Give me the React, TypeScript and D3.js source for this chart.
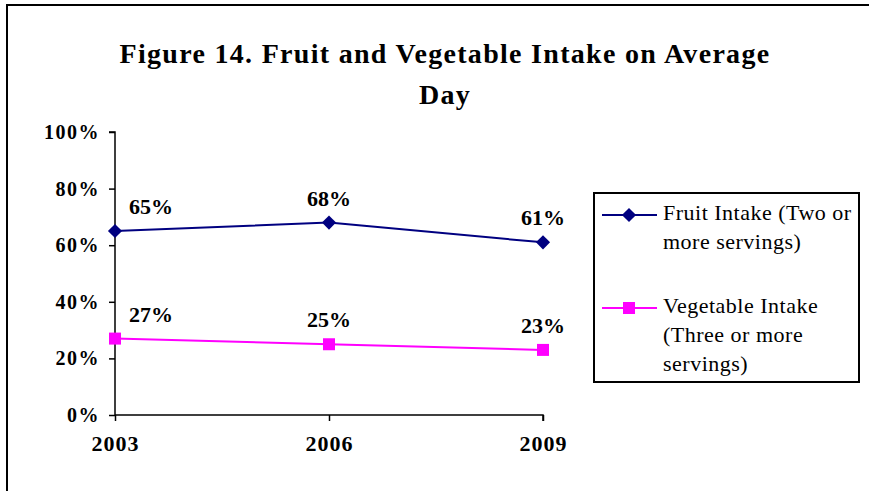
import * as d3 from "d3";
import { useEffect, useRef } from "react";

// данные графика
const years = ["2003", "2006", "2009"];
const fruitValues = [0.65, 0.68, 0.61];
const vegValues = [0.27, 0.25, 0.23];
const yTicks = [0, 0.2, 0.4, 0.6, 0.8, 1.0];
const fruitLegend = ["Fruit Intake (Two or", "more servings)"];
const vegLegend = ["Vegetable Intake", "(Three or more", "servings)"];
const titleLines = ["Figure 14. Fruit and Vegetable Intake on Average", "Day"];

const W = 869;
const H = 491;
const FONT = "'Liberation Serif', 'Times New Roman', serif";

const App = () => {
  const ref = useRef<SVGSVGElement>(null);

  useEffect(() => {
    document.body.style.margin = "0";

    const svg = d3.select(ref.current);
    svg.selectAll("*").remove();

    // рамка (видны только верх и левый край)
    svg.append("line")
      .attr("x1", 7).attr("x2", 7).attr("y1", 4).attr("y2", H)
      .attr("stroke", "black").attr("stroke-width", 2);
    svg.append("line")
      .attr("x1", 6).attr("x2", W).attr("y1", 5).attr("y2", 5)
      .attr("stroke", "black").attr("stroke-width", 2);

    // заголовок
    svg.append("g").selectAll("text")
      .data(titleLines)
      .enter()
      .append("text")
      .attr("x", 445)
      .attr("y", (d, i) => 63 + i * 41)
      .attr("text-anchor", "middle")
      .style("font-family", FONT)
      .style("font-weight", "bold")
      .style("font-size", "28px")
      .style("letter-spacing", "1.3px")
      .text(d => d);

    const margin = { left: 115, top: 132, right: 543, bottom: 415 };

    const scaleX = d3.scalePoint()
      .domain(years)
      .range([margin.left, margin.right]);

    const scaleY = d3.scaleLinear()
      .domain([0, 1])
      .range([margin.bottom, margin.top]);

    // ось Y
    const yAxis = d3.axisLeft(scaleY)
      .tickValues(yTicks)
      .tickFormat(d3.format(".0%"))
      .tickSize(6)
      .tickPadding(9);
    const gy = svg.append("g")
      .attr("transform", `translate(${margin.left}, 0)`)
      .call(yAxis);
    gy.select(".domain").attr("stroke-width", 1.5).attr("d", `M-6,${margin.top}H0V${margin.bottom}`);
    gy.selectAll("line").attr("stroke-width", 1.5);
    gy.selectAll("text")
      .style("font-family", FONT)
      .style("font-weight", "bold")
      .style("font-size", "20px")
      .style("letter-spacing", "1.5px")
      .attr("fill", "black");

    // ось X
    const xAxis = d3.axisBottom(scaleX)
      .tickSize(6)
      .tickPadding(14);
    const gx = svg.append("g")
      .attr("transform", `translate(0, ${margin.bottom})`)
      .call(xAxis);
    gx.select(".domain").attr("stroke-width", 1.5).attr("d", `M${margin.left},0H${margin.right}V6`);
    gx.selectAll("line").attr("stroke-width", 1.5);
    gx.selectAll("text")
      .style("font-family", FONT)
      .style("font-weight", "bold")
      .style("font-size", "22px")
      .style("letter-spacing", "1px")
      .attr("fill", "black");

    const marker = (size: number) => d3.symbol().type(d3.symbolSquare).size(size)();

    const series = [
      { values: fruitValues, color: "#000080", path: marker(100), rot: 45 },
      { values: vegValues, color: "#FF00FF", path: marker(144), rot: 0 },
    ];

    const line = d3.line<number>()
      .x((d, i) => scaleX(years[i]) as number)
      .y(d => scaleY(d));

    series.forEach(s => {
      svg.append("path")
        .attr("d", line(s.values))
        .attr("fill", "none")
        .attr("stroke", s.color)
        .attr("stroke-width", 2);

      svg.append("g").selectAll("path")
        .data(s.values)
        .enter()
        .append("path")
        .attr("d", s.path)
        .attr("transform", (d, i) => `translate(${scaleX(years[i])}, ${scaleY(d)}) rotate(${s.rot})`)
        .attr("fill", s.color);

      // подписи значений
      svg.append("g").selectAll("text")
        .data(s.values)
        .enter()
        .append("text")
        .attr("x", (d, i) => (scaleX(years[i]) as number) + (i === 0 ? 36 : 0))
        .attr("y", d => scaleY(d) - 22)
        .attr("text-anchor", "middle")
        .attr("dominant-baseline", "middle")
        .style("font-family", FONT)
        .style("font-weight", "bold")
        .style("font-size", "22px")
        .text(d => d3.format(".0%")(d));
    });

    // легенда
    const legend = svg.append("g");
    legend.append("rect")
      .attr("x", 594).attr("y", 193)
      .attr("width", 265).attr("height", 189)
      .attr("fill", "white").attr("stroke", "black").attr("stroke-width", 2);

    const items = [
      { lines: fruitLegend, y: 215, ...series[0] },
      { lines: vegLegend, y: 308, ...series[1] },
    ];
    items.forEach(it => {
      legend.append("line")
        .attr("x1", 602).attr("x2", 657)
        .attr("y1", it.y).attr("y2", it.y)
        .attr("stroke", it.color).attr("stroke-width", 2);
      legend.append("path")
        .attr("d", it.path)
        .attr("transform", `translate(629, ${it.y}) rotate(${it.rot})`)
        .attr("fill", it.color);
      legend.append("g").selectAll("text")
        .data(it.lines)
        .enter()
        .append("text")
        .attr("x", 663)
        .attr("y", (d, i) => it.y + i * 29)
        .attr("dominant-baseline", "middle")
        .style("font-family", FONT)
        .style("font-size", "22px")
        .style("letter-spacing", "0.5px")
        .text(d => d);
    });
  }, []);

  return (
    <svg ref={ref} width={W} height={H}
      style={{ position: "absolute", left: 0, top: 0, background: "white", display: "block" }} />
  );
};

export default App;
